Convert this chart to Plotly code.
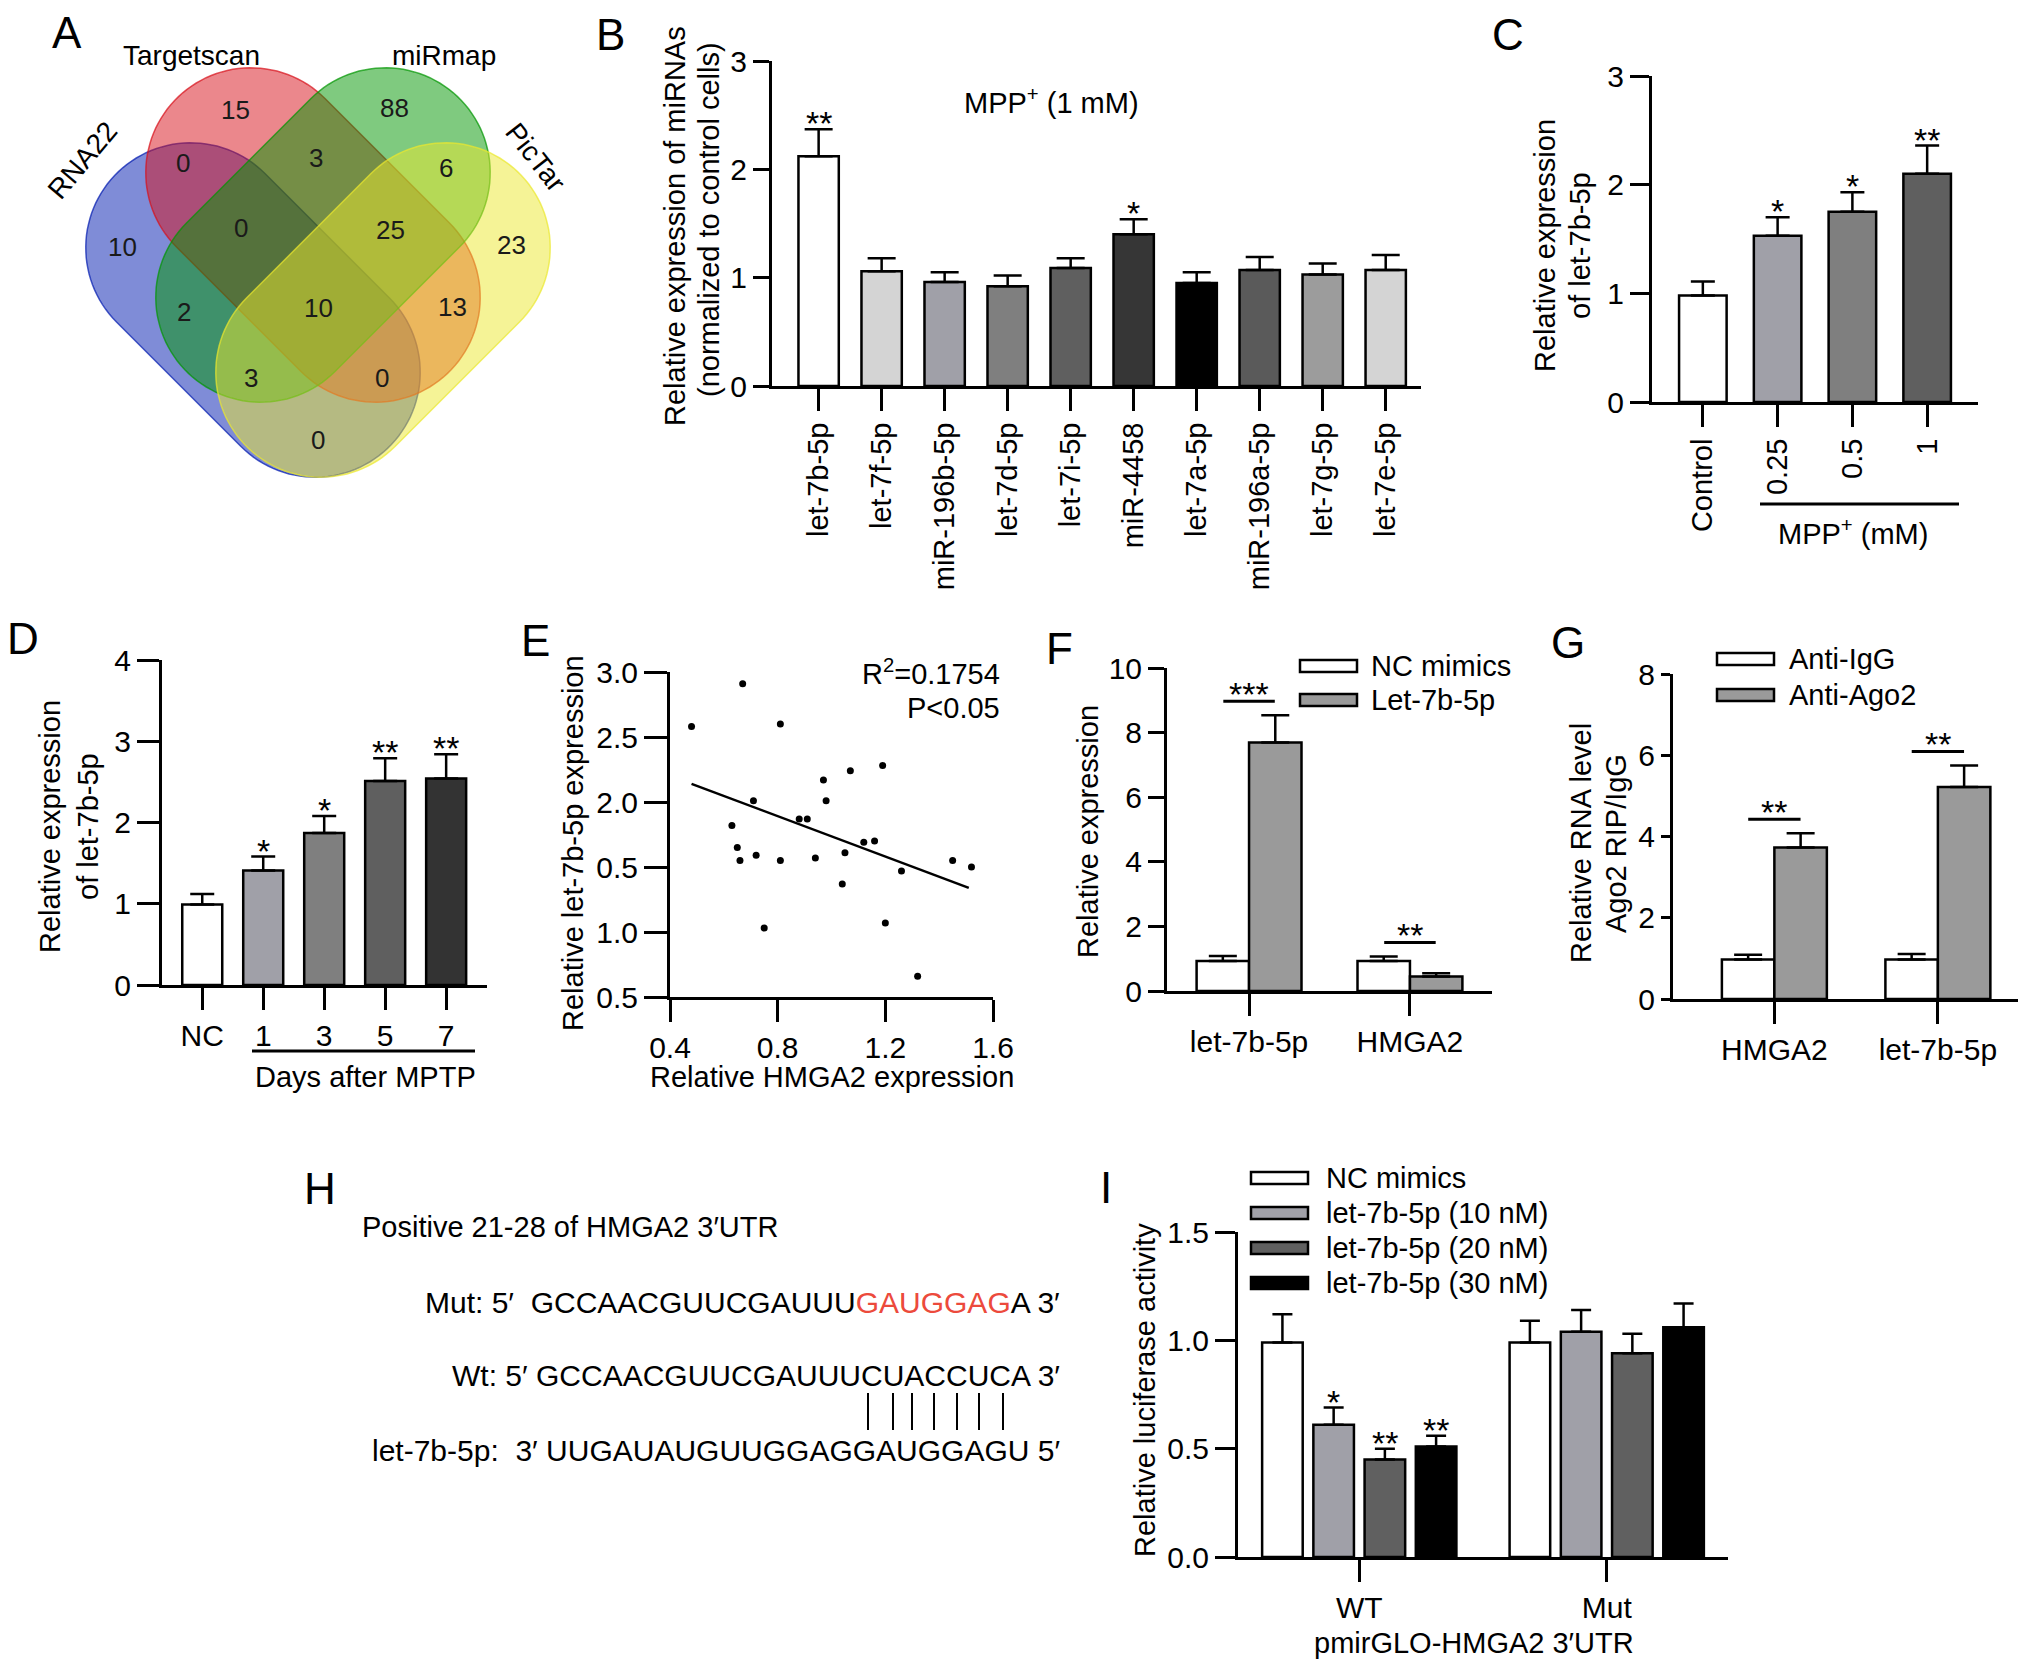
import numpy as np
import plotly.graph_objects as go

W, H = 2032, 1673
OFF = 8  # the page body margin shifts the plot by this many pixels
FONT = "Liberation Sans, Arial, Helvetica, sans-serif"

# ---------------- data ----------------
# A: Venn diagram
venn_names = ["RNA22", "Targetscan", "miRmap", "PicTar"]
venn_counts = [15, 88, 0, 3, 6, 10, 0, 25, 23, 2, 10, 13, 3, 0, 0]

# B: miRNA screen, MPP+ (1 mM)
b_mirna = ["let-7b-5p", "let-7f-5p", "miR-196b-5p", "let-7d-5p", "let-7i-5p",
           "miR-4458", "let-7a-5p", "miR-196a-5p", "let-7g-5p", "let-7e-5p"]
b_mean = [2.12, 1.06, 0.96, 0.92, 1.09, 1.40, 0.95, 1.07, 1.03, 1.07]
b_sd = [0.25, 0.12, 0.09, 0.10, 0.09, 0.14, 0.10, 0.12, 0.10, 0.14]
b_sig = ["**", "", "", "", "", "*", "", "", "", ""]

# C: MPP+ dose
c_groups = ["Control", "0.25", "0.5", "1"]
c_mean = [0.98, 1.53, 1.75, 2.10]
c_sd = [0.13, 0.17, 0.18, 0.26]
c_sig = ["", "*", "*", "**"]

# D: days after MPTP
d_groups = ["NC", "1", "3", "5", "7"]
d_mean = [0.99, 1.41, 1.87, 2.51, 2.54]
d_sd = [0.13, 0.17, 0.21, 0.28, 0.30]
d_sig = ["", "*", "*", "**", "**"]

# E: correlation
e_hmga2 = [0.48, 0.67, 0.81, 0.71, 0.63, 0.65, 0.66, 0.72, 0.81, 0.75, 0.88, 0.91, 0.97,
           0.98, 0.94, 1.07, 1.05, 1.04, 1.12, 1.16, 1.19, 1.26, 1.20, 1.32, 1.45, 1.52]
e_let7b = [2.58, 2.91, 2.60, 2.01, 1.82, 1.65, 1.55, 1.59, 1.55, 1.03, 1.87, 1.87, 2.17,
           2.01, 1.57, 2.24, 1.61, 1.37, 1.69, 1.70, 2.28, 1.47, 1.07, 0.66, 1.55, 1.50]
e_fit_x = [0.48, 1.51]
e_fit_y = [2.14, 1.34]
e_yticks = [0.5, 1.0, 1.5, 2.0, 2.5, 3.0]
e_yticktext = ["0.5", "1.0", "0.5", "2.0", "2.5", "3.0"]
e_xticks = [0.4, 0.8, 1.2, 1.6]

# F: mimics
f_targets = ["let-7b-5p", "HMGA2"]
f_series = ["NC mimics", "Let-7b-5p"]
f_mean = [[0.93, 0.93], [7.69, 0.45]]
f_sd = [[0.15, 0.14], [0.85, 0.10]]
f_sig = ["***", "**"]

# G: RIP
g_targets = ["HMGA2", "let-7b-5p"]
g_series = ["Anti-IgG", "Anti-Ago2"]
g_mean = [[0.97, 0.97], [3.73, 5.22]]
g_sd = [[0.12, 0.14], [0.35, 0.53]]
g_sig = ["**", "**"]

# I: luciferase
i_groups = ["WT", "Mut"]
i_series = ["NC mimics", "let-7b-5p (10 nM)", "let-7b-5p (20 nM)", "let-7b-5p (30 nM)"]
i_mean = [[0.99, 0.99], [0.61, 1.04], [0.45, 0.94], [0.51, 1.06]]
i_sd = [[0.13, 0.10], [0.08, 0.10], [0.05, 0.09], [0.05, 0.11]]
i_sig = [["", ""], ["*", ""], ["**", ""], ["**", ""]]

# ---------------- helpers ----------------
def fx(p):
    return (p - OFF) / W


def fy(p):
    return 1 - (p - OFF) / H


annotations = []
shapes = []
STAR = 34


def label(text, x, y, size=29, **kw):
    d = dict(text=text, x=fx(x), y=fy(y), xref="paper", yref="paper", showarrow=False,
             font=dict(size=size, color="black", family=FONT), xanchor="center", yanchor="middle")
    d.update(kw)
    annotations.append(d)


def stadium(cx, cy, ang, half_len, rad, n=60):
    a = np.radians(ang)
    ux, uy = np.cos(a), np.sin(a)
    t1 = np.linspace(a - np.pi / 2, a + np.pi / 2, n)
    t2 = np.linspace(a + np.pi / 2, a + 3 * np.pi / 2, n)
    xs = np.concatenate([cx + half_len * ux + rad * np.cos(t1), cx - half_len * ux + rad * np.cos(t2)])
    ys = np.concatenate([cy + half_len * uy + rad * np.sin(t1), cy - half_len * uy + rad * np.sin(t2)])
    return "M " + " L ".join(f"{x:.1f},{y:.1f}" for x, y in zip(xs, ys)) + " Z"


fig = go.Figure()

# ---------------- A: Venn ----------------
venn_geom = [(253, 310, 45), (313, 235, 45), (323, 235, 135), (383, 310, 135)]
venn_rgb = ["0,25,175", "215,15,25", "0,150,0", "235,232,45"]
for (cx, cy, ang), rgb in zip(venn_geom, venn_rgb):
    shapes.append(dict(type="path", xref="x", yref="y", path=stadium(cx, cy, ang, 88, 105),
                       fillcolor=f"rgba({rgb},0.5)", line=dict(color=f"rgba({rgb},0.7)", width=1.5)))
venn_xy = [(235, 110), (394, 108), (183, 163), (316, 158), (446, 168), (122, 247), (241, 228),
           (390, 230), (511, 245), (184, 312), (318, 308), (452, 307), (251, 378), (382, 378), (318, 440)]
for cnt, (x, y) in zip(venn_counts, venn_xy):
    annotations.append(dict(text=str(cnt), x=x, y=y, xref="x", yref="y", showarrow=False,
                            font=dict(size=26, color="#1a1a1a", family=FONT)))
venn_lab = [(82, 160, -50), (191, 55, 0), (444, 55, 0), (536, 157, 52)]
for nm, (x, y, a) in zip(venn_names, venn_lab):
    annotations.append(dict(text=nm, x=x, y=y, xref="x", yref="y", showarrow=False, textangle=a,
                            font=dict(size=28, color="black", family=FONT)))
fig.add_trace(go.Scatter(x=[], y=[], xaxis="x", yaxis="y", showlegend=False))

# ---------------- axes ----------------
axis_base = dict(showline=True, linecolor="black", linewidth=3, ticks="outside", tickwidth=3,
                 tickcolor="black", showgrid=False, zeroline=False, automargin=False,
                 tickfont=dict(size=30, color="black", family=FONT))
boxes = {  # left, right, top, bottom (pixels)
    2: (772, 1421, 61, 386),
    3: (1652, 1978, 76, 402),
    4: (162, 487, 660, 985),
    5: (670, 993, 672, 997),
    6: (1167, 1492, 668, 991),
    7: (1673, 2018, 674, 999),
    8: (1238, 1728, 1232, 1557),
}
layout_axes = dict(
    xaxis=dict(domain=[0, 640 / W], range=[OFF, 640 + OFF], visible=False, anchor="y", automargin=False),
    yaxis=dict(domain=[1 - 560 / H, 1], range=[560 + OFF, OFF], visible=False, anchor="x", automargin=False),
)
for k, (l, r, t, b) in boxes.items():
    layout_axes[f"xaxis{k}"] = dict(axis_base, domain=[fx(l), fx(r)], anchor=f"y{k}", ticklen=22)
    layout_axes[f"yaxis{k}"] = dict(axis_base, domain=[fy(b), fy(t)], anchor=f"x{k}", ticklen=20)


def ppu(k, span):
    l, r, t, b = boxes[k]
    return (b - t) / span


def star(text, x, y, k, shift=6):
    annotations.append(dict(text=text, x=x, y=y, xref=f"x{k}", yref=f"y{k}", showarrow=False,
                            yanchor="middle", yshift=shift, font=dict(size=STAR, color="black", family=FONT)))


def simple_bars(k, cats, means, sds, colors, sig, width, cap):
    x = np.arange(len(cats))
    fig.add_trace(go.Bar(x=x, y=means, width=width, xaxis=f"x{k}", yaxis=f"y{k}", showlegend=False,
                         marker=dict(color=colors, line=dict(color="black", width=2.5)),
                         error_y=dict(type="data", array=sds, arrayminus=[0] * len(sds), symmetric=False,
                                      color="black", thickness=2.5, width=cap)))
    for i, s in enumerate(sig):
        if s:
            star(s, int(x[i]), means[i] + sds[i], k)
    layout_axes[f"xaxis{k}"].update(tickvals=list(x), ticktext=cats)


def grouped_bars(k, groups, means, sds, colors, width, step, cap, sig=None):
    n = len(means)
    base = np.arange(len(groups))
    for j in range(n):
        x = base + (j - (n - 1) / 2) * step
        fig.add_trace(go.Bar(x=x, y=means[j], width=width, xaxis=f"x{k}", yaxis=f"y{k}", showlegend=False,
                             marker=dict(color=colors[j], line=dict(color="black", width=2.5)),
                             error_y=dict(type="data", array=sds[j], arrayminus=[0] * len(groups),
                                          symmetric=False, color="black", thickness=2.5, width=cap)))
        if sig:
            for g, s in enumerate(sig[j]):
                if s:
                    star(s, float(x[g]), means[j][g] + sds[j][g], k)
    layout_axes[f"xaxis{k}"].update(tickvals=list(base), ticktext=groups)


def pair_sig(k, means, sds, sig, span, gap_px=14, half=0.16):
    u = ppu(k, span)
    for g, s in enumerate(sig):
        top = max(means[j][g] + sds[j][g] for j in range(len(means)))
        yl = top + gap_px / u
        shapes.append(dict(type="line", xref=f"x{k}", yref=f"y{k}", x0=g - half, x1=g + half, y0=yl, y1=yl,
                           line=dict(color="black", width=3)))
        star(s, g, yl, k, shift=7)


def legend_box(x0, ys, names, colors, tx):
    for y, nm, c in zip(ys, names, colors):
        shapes.append(dict(type="rect", xref="paper", yref="paper", x0=fx(x0), x1=fx(x0 + 57),
                           y0=fy(y + 6), y1=fy(y - 6), fillcolor=c, line=dict(color="black", width=2.5)))
        label(nm, tx, y, xanchor="left")


# ---------------- B ----------------
b_colors = ["#ffffff", "#d4d4d4", "#a0a0a8", "#7f7f7f", "#5f5f5f", "#363636", "#000000",
            "#5a5a5a", "#9c9c9c", "#d4d4d4"]
simple_bars(2, b_mirna, b_mean, b_sd, b_colors, b_sig, 0.64, 14)
layout_axes["xaxis2"].update(range=[-0.74, 9.56], tickangle=-90, tickfont=dict(size=29, color="black", family=FONT))
layout_axes["yaxis2"].update(range=[0, 3], tickvals=[0, 1, 2, 3], ticklen=16)
label("MPP<sup>+</sup> (1 mM)", 1051, 101)
label("Relative expression of miRNAs", 675, 226, textangle=-90)
label("(normalized to control cells)", 709, 220, textangle=-90)

# ---------------- C ----------------
c_colors = ["#ffffff", "#a0a0a8", "#7f7f7f", "#5f5f5f"]
simple_bars(3, c_groups, c_mean, c_sd, c_colors, c_sig, 0.636, 12)
layout_axes["xaxis3"].update(range=[-0.68, 3.68], tickangle=-90, tickfont=dict(size=29, color="black", family=FONT))
layout_axes["yaxis3"].update(range=[0, 3], tickvals=[0, 1, 2, 3], ticklen=19)
label("Relative expression", 1545, 246, textangle=-90)
label("of let-7b-5p", 1580, 246, textangle=-90)
shapes.append(dict(type="line", xref="paper", yref="paper", x0=fx(1760), x1=fx(1959), y0=fy(504), y1=fy(504),
                   line=dict(color="black", width=3)))
label("MPP<sup>+</sup> (mM)", 1853, 532)

# ---------------- D ----------------
d_colors = ["#ffffff", "#a0a0a8", "#7f7f7f", "#5f5f5f", "#333333"]
simple_bars(4, d_groups, d_mean, d_sd, d_colors, d_sig, 0.656, 12)
layout_axes["xaxis4"].update(range=[-0.66, 4.67])
layout_axes["yaxis4"].update(range=[0, 4], tickvals=[0, 1, 2, 3, 4], ticklen=22)
label("Relative expression", 50, 827, textangle=-90)
label("of let-7b-5p", 88, 827, textangle=-90)
shapes.append(dict(type="line", xref="paper", yref="paper", x0=fx(252), x1=fx(475), y0=fy(1051), y1=fy(1051),
                   line=dict(color="black", width=3)))
label("Days after MPTP", 365, 1077)

# ---------------- E ----------------
fig.add_trace(go.Scatter(x=e_hmga2, y=e_let7b, mode="markers", xaxis="x5", yaxis="y5", showlegend=False,
                         marker=dict(color="black", size=7)))
fig.add_trace(go.Scatter(x=e_fit_x, y=e_fit_y, mode="lines", xaxis="x5", yaxis="y5", showlegend=False,
                         line=dict(color="black", width=2.5)))
layout_axes["xaxis5"].update(range=[0.4, 1.6], tickvals=e_xticks, ticktext=[f"{v:.1f}" for v in e_xticks])
layout_axes["yaxis5"].update(range=[0.5, 3.0], tickvals=e_yticks, ticktext=e_yticktext, ticklen=23)
label("R<sup>2</sup>=0.1754", 1002, 672, xanchor="right")
label("P&lt;0.05", 1002, 708, xanchor="right")
label("Relative let-7b-5p expression", 573, 843, textangle=-90)
label("Relative HMGA2 expression", 832, 1077)

# ---------------- F ----------------
f_colors = ["#ffffff", "#9a9a9a"]
grouped_bars(6, f_targets, f_mean, f_sd, f_colors, 0.326, 0.326, 14)
layout_axes["xaxis6"].update(range=[-0.51, 1.51])
layout_axes["yaxis6"].update(range=[0, 10], tickvals=[0, 2, 4, 6, 8, 10], ticklen=16)
pair_sig(6, f_mean, f_sd, f_sig, 10)
legend_box(1300, [666, 700], f_series, f_colors, 1369)
label("Relative expression", 1088, 832, textangle=-90)

# ---------------- G ----------------
grouped_bars(7, g_targets, g_mean, g_sd, f_colors, 0.321, 0.321, 14)
layout_axes["xaxis7"].update(range=[-0.62, 1.49])
layout_axes["yaxis7"].update(range=[0, 8], tickvals=[0, 2, 4, 6, 8], ticklen=9)
pair_sig(7, g_mean, g_sd, g_sig, 8)
legend_box(1717, [659, 695], g_series, f_colors, 1787)
label("Relative RNA level", 1581, 843, textangle=-90)
label("Ago2 RIP/IgG", 1616, 844, textangle=-90)

# ---------------- H ----------------
label("Positive 21-28 of HMGA2 3\u2032UTR", 360, 1227, xanchor="left")
label("Mut: 5\u2032\u00a0\u00a0GCCAACGUUCGAUUU<span style='color:#ec4a3c'>GAUGGAG</span>A 3\u2032",
      1062, 1302, size=30, xanchor="right")
label("Wt: 5\u2032 GCCAACGUUCGAUUUCUACCUCA 3\u2032", 1062, 1375, size=30, xanchor="right")
label("let-7b-5p:\u00a0\u00a03\u2032 UUGAUAUGUUGGAGGAUGGAGU 5\u2032", 1062, 1450, size=30, xanchor="right")
for xb in [868, 893, 912, 934, 957, 979, 1003]:
    shapes.append(dict(type="line", xref="paper", yref="paper", x0=fx(xb), x1=fx(xb), y0=fy(1393), y1=fy(1430),
                       line=dict(color="black", width=2)))

# ---------------- I ----------------
i_colors = ["#ffffff", "#a0a0a8", "#606060", "#000000"]
grouped_bars(8, i_groups, i_mean, i_sd, i_colors, 0.164, 0.207, 10, sig=i_sig)
layout_axes["xaxis8"].update(range=[-0.49, 1.49])
layout_axes["yaxis8"].update(range=[0, 1.5], tickvals=[0, 0.5, 1.0, 1.5],
                             ticktext=["0.0", "0.5", "1.0", "1.5"], ticklen=20)
legend_box(1251, [1178, 1213, 1248, 1283], i_series, i_colors, 1324)
label("Relative luciferase activity", 1145, 1390, textangle=-90)
label("pmirGLO-HMGA2 3\u2032UTR", 1474, 1643)

# ---------------- panel letters ----------------
for ch, (x, y) in zip("ABCDEFGHI", [(67, 32), (610, 34), (1508, 34), (23, 638), (535, 640),
                                     (1059, 648), (1568, 643), (320, 1188), (1106, 1187)]):
    label(ch, x, y, size=44)

fig.update_layout(
    width=W, height=H, margin=dict(l=0, r=0, t=0, b=0, autoexpand=False),
    paper_bgcolor="white", plot_bgcolor="white", showlegend=False, barmode="overlay",
    font=dict(family=FONT, size=29, color="black"),
    annotations=annotations, shapes=shapes, **layout_axes,
)

fig.write_html("out.html")
